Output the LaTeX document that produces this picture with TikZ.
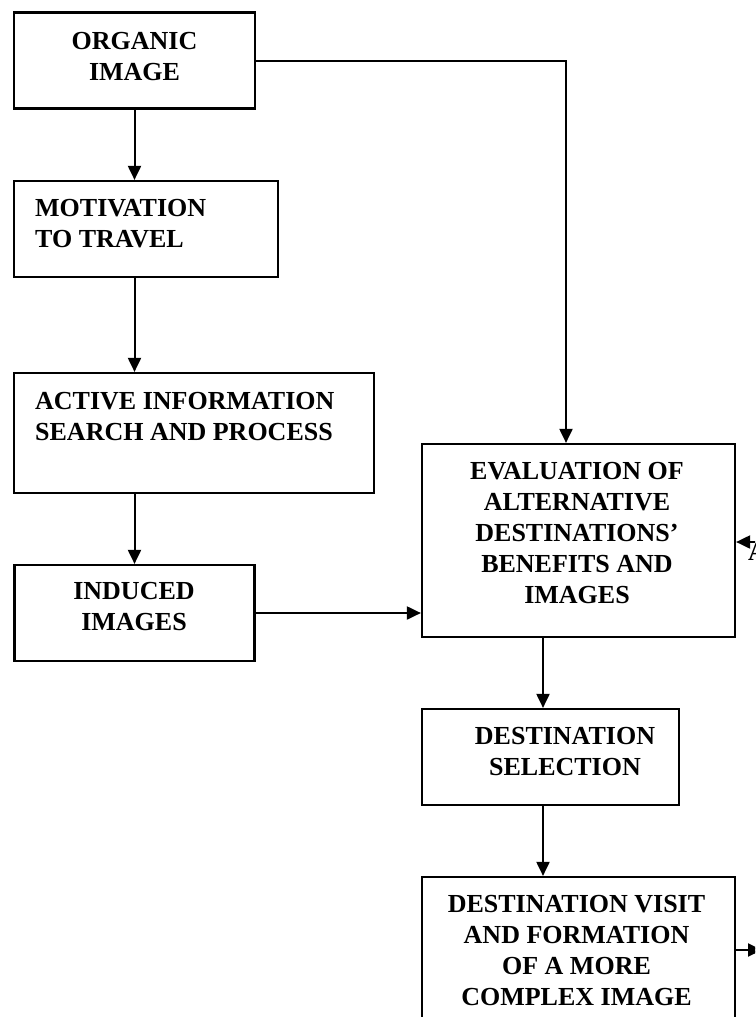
\documentclass[tikz,border=0pt]{standalone}
\usepackage{fontspec}
\setmainfont{Liberation Serif}
\usetikzlibrary{arrows.meta,calc}
\tikzset{
%Define standard arrow tip
>={Triangle[length=14pt,width=13pt]},
%Define styles for boxes, texts and links
stage/.style={draw, line width=2.2pt, rectangle, inner sep=0pt},
stage text/.style={inner sep=0pt, align=center, font=\fontsize{26}{31}\selectfont\bfseries},
left text/.style={stage text, align=left, anchor=west},
link/.style={->, line width=2pt},
}

\begin{document}
\begin{tikzpicture}[x=1pt,y=-1pt]
    % Frame of the picture
    \useasboundingbox (0,0) rectangle (755,1017);
    \clip (0,0) rectangle (755,1017);

    % Boxes
    \node[stage, minimum width=241pt, minimum height=96pt] (organic) at (134.5,60.5) {};
    \node[stage, minimum width=264pt, minimum height=96pt] (motiv) at (146,229) {};
    \node[stage, minimum width=360pt, minimum height=120pt] (active) at (194,433) {};
    \node[stage, minimum width=240pt, minimum height=96pt] (induced) at (134.5,613) {};
    \node[stage, minimum width=313pt, minimum height=193pt] (eval) at (578.5,540.5) {};
    \node[stage, minimum width=257pt, minimum height=96pt] (dsel) at (550.5,757) {};
    \node[stage, minimum width=313pt, minimum height=146pt] (dvisit) at (578.5,950) {};

    % Texts of the boxes
    \node[stage text] (organic text) at (134.5,57) {ORGANIC\\IMAGE};
    \node[left text] (motiv text) at (35,224) {MOTIVATION\\TO TRAVEL};
    \node[left text] (active text) at (35,417) {ACTIVE INFORMATION\\SEARCH AND PROCESS};
    \node[stage text] (induced text) at (134,607) {INDUCED\\IMAGES};
    \node[stage text] (eval text) at (577,533) {EVALUATION OF\\ALTERNATIVE\\DESTINATIONS’\\BENEFITS AND\\IMAGES};
    \node[stage text] (dsel text) at (565,751.5) {DESTINATION\\SELECTION};
    \node[stage text] (dvisit text) at (576.5,950.5) {DESTINATION VISIT\\AND FORMATION\\OF A MORE\\COMPLEX IMAGE};
    \node[stage text, anchor=base west] (cut text) at (748,560) {A};

    % Help coordinates for the links
    \path
    coordinate (corner) at (566,60.5)
    coordinate (mid) at (543,0)
    coordinate (inR) at (762,542)
    coordinate (outR) at (762,950);

    % Links on the left
    \draw[link] (organic) -- (organic |- motiv.north);
    \draw[link] (organic |- motiv.south) -- (organic |- active.north);
    \draw[link] (organic |- active.south) -- (induced.north);
    \draw[link] (induced.east) -- (eval.west |- induced.east);

    % Links on the right
    \draw[link] (organic.east) -- (corner) -- (corner |- eval.north);
    \draw[link] (eval.south -| mid) -- (dsel.north -| mid);
    \draw[link] (dsel.south -| mid) -- (dvisit.north -| mid);
    \draw[link] (inR) -- (eval.east |- inR);
    \draw[link] (dvisit.east) -- (outR);
\end{tikzpicture}
\end{document}
